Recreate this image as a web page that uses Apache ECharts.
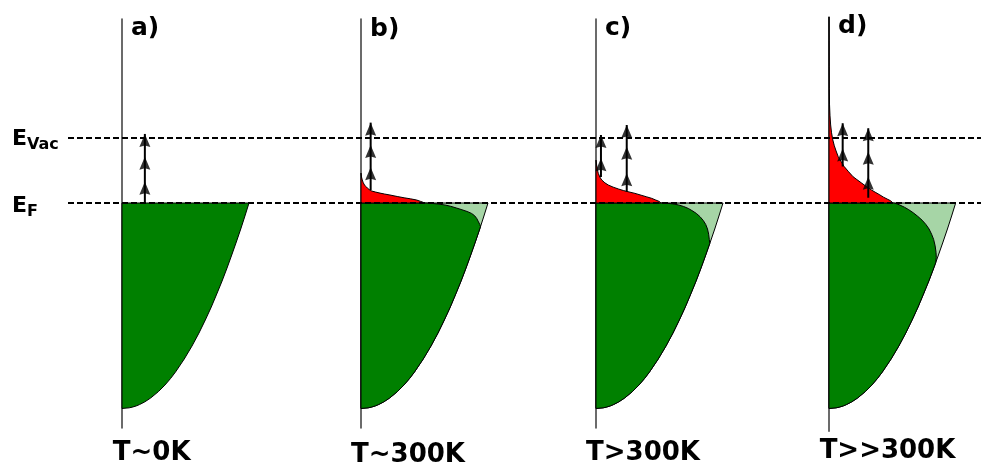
<!DOCTYPE html>
<html><head><meta charset="utf-8">
<script src="https://cdn.jsdelivr.net/npm/echarts@6/dist/echarts.min.js"></script>
<style>html,body{margin:0;padding:0;background:#fff}#c{width:981px;height:464px}</style>
</head><body><div id="c"></div>
<script>
// ---- labels ----
const panelLabels = ['a)', 'b)', 'c)', 'd)'];
const tempLabels = ['T~0K', 'T~300K', 'T>300K', 'T>>300K'];
// energy levels (eV, relative to E_F)
const levelEnergy = [0, 5]; // E_F, E_Vac

// ---- density of states edge: [width (DOS, normalised at E_F), energy] ----
const dos = [[0,-15.8],[0.056,-15.75],[0.08,-15.7],[0.113,-15.6],[0.138,-15.5],[0.178,-15.3],[0.225,-15.0],
  [0.287,-14.5],[0.338,-14.0],[0.382,-13.5],[0.421,-13.0],[0.49,-12.0],[0.551,-11.0],[0.606,-10.0],[0.656,-9.0],
  [0.703,-8.0],[0.746,-7.0],[0.788,-6.0],[0.827,-5.0],[0.864,-4.0],[0.9,-3.0],[0.935,-2.0],[0.968,-1.0],[1.0,0]];

// ---- occupied-state boundary below E_F (from junction with DOS up to E_F) ----
const occB = [[0.941,-1.8],[0.935,-1.65],[0.925,-1.45],[0.912,-1.2],[0.895,-0.98],[0.87,-0.8],[0.835,-0.65],
  [0.795,-0.52],[0.75,-0.38],[0.705,-0.25],[0.66,-0.15],[0.6,-0.07],[0.55,-0.025],[0.5,0]];
const occC = [[0.896,-3.1],[0.892,-2.8],[0.887,-2.4],[0.878,-2.0],[0.864,-1.65],[0.845,-1.35],[0.819,-1.05],
  [0.79,-0.8],[0.755,-0.58],[0.727,-0.42],[0.69,-0.27],[0.65,-0.15],[0.6,-0.06],[0.555,-0.02],[0.51,0]];
const occD = [[0.842,-4.6],[0.847,-4.2],[0.845,-3.8],[0.838,-3.3],[0.826,-2.8],[0.81,-2.4],[0.79,-2.0],
  [0.765,-1.65],[0.735,-1.32],[0.7,-1.02],[0.665,-0.75],[0.63,-0.52],[0.595,-0.32],[0.56,-0.16],[0.535,-0.06],[0.51,0]];

// ---- excited electrons above E_F (red) ----
const redB = [[0.5,0],[0.49,0.05],[0.47,0.12],[0.438,0.23],[0.39,0.32],[0.34,0.4],[0.285,0.5],[0.228,0.615],
  [0.185,0.69],[0.15,0.76],[0.115,0.84],[0.085,0.92],[0.065,1.03],[0.05,1.15],[0.038,1.27],[0.028,1.38],
  [0.018,1.55],[0.01,1.77],[0.004,2.0],[0,2.3]];
const redC = [[0.51,0],[0.506,0.05],[0.495,0.13],[0.47,0.23],[0.438,0.36],[0.4,0.47],[0.355,0.6],[0.307,0.74],
  [0.26,0.85],[0.215,0.96],[0.176,1.08],[0.135,1.22],[0.097,1.38],[0.07,1.55],[0.045,1.77],[0.03,2.0],
  [0.018,2.28],[0.01,2.6],[0.005,2.92],[0,3.3]];
const redD = [[0.506,0],[0.5,0.05],[0.485,0.18],[0.46,0.3],[0.43,0.45],[0.402,0.62],[0.37,0.8],[0.335,1.0],
  [0.297,1.25],[0.255,1.55],[0.22,1.8],[0.19,2.02],[0.155,2.4],[0.12,2.8],[0.095,3.2],[0.073,3.56],[0.056,4.0],
  [0.042,4.4],[0.03,4.85],[0.02,5.4],[0.013,6.0],[0.008,6.7],[0.004,7.6],[0.002,8.8],[0.001,10.5],
  [0.0005,12.5],[0,14.3]];

// ---- emission arrows: [x, bottom energy, top energy], head energies ----
const arrowsA = [[0.18, 0, 5.31]];      const headsA = [[5.31, 3.56, 1.64]];
const arrowsB = [[0.076, 1.0, 6.18]];   const headsB = [[6.18, 4.46, 2.75]];
const arrowsC = [[0.039, 2.0, 5.23],[0.242, 0.87, 6.0]]; const headsC = [[5.23, 3.44],[6.0, 4.33, 2.28]];
const arrowsD = [[0.108, 2.8, 6.13],[0.31, 0.4, 5.75]];  const headsD = [[6.13, 4.2],[5.75, 3.95, 2.02]];

// ---- layout (not data) ----
const axisX = [122, 361, 596, 829];
const yRange = [[-17.3,14.15],[-17.3,14.15],[-17.3,14.15],[-17.55,14.3]];
const PXU = 13.005, PXW = 127, XMAX = 1.2;
const FONT = '"DejaVu Sans", Verdana, sans-serif';
const DARK = '#008000', LIGHT = '#a6d5a6', RED = '#ff0000';
const HEAD = 'path://M0,0 L5,13 L0,11.5 L-5,13 Z';

const grids = [], xAxes = [], yAxes = [], series = [];
for (let i = 0; i < 4; i++) {
  const top = 203 - yRange[i][1] * PXU;
  grids.push({left: axisX[i], top: top, width: PXW * XMAX, height: (yRange[i][1] - yRange[i][0]) * PXU});
  xAxes.push({gridIndex: i, type: 'value', min: 0, max: XMAX, show: false});
  yAxes.push({gridIndex: i, type: 'value', min: yRange[i][0], max: yRange[i][1],
    axisLine: {show: true, onZero: false, lineStyle: {color: '#3a3a3a', width: 1.5}},
    axisTick: {show: false}, axisLabel: {show: false}, splitLine: {show: false}});
}
// full-width grid for the dashed energy levels
grids.push({left: 68, right: 0, top: 203 - 14.15 * PXU, height: (14.15 + 17.3) * PXU});
xAxes.push({gridIndex: 4, type: 'value', min: 0, max: 1, show: false});
yAxes.push({gridIndex: 4, type: 'value', min: -17.3, max: 14.15, show: false});

function poly(gi, pts, fill, z) {
  return {type: 'custom', coordinateSystem: 'cartesian2d', xAxisIndex: gi, yAxisIndex: gi, z: z, silent: true,
    data: pts,
    renderItem: function (params, api) {
      if (params.dataIndex !== 0) return null;
      return {type: 'polygon', shape: {points: pts.map(p => api.coord(p))},
        style: {fill: fill, stroke: '#000', lineWidth: 1, lineJoin: 'round'}};
    }};
}
function darkPoly(occ) {
  const joinE = occ[0][1];
  return dos.filter(p => p[1] < joinE).concat(occ).concat([[0, 0]]);
}
const dosPoly = dos.concat([[0, 0]]);

// panel a
series.push(poly(0, dosPoly, DARK, 3));
// panels b-d
[[occB, redB], [occC, redC], [occD, redD]].forEach((pr, k) => {
  const gi = k + 1;
  series.push(poly(gi, dosPoly, LIGHT, 2));
  series.push(poly(gi, darkPoly(pr[0]), DARK, 3));
  series.push(poly(gi, pr[1].concat([[0, 0]]), RED, 3));
});

// dashed levels
levelEnergy.forEach(e => {
  series.push({type: 'line', xAxisIndex: 4, yAxisIndex: 4, z: 6, silent: true, symbol: 'none',
    data: [[0, e], [1, e]], lineStyle: {color: '#000', width: 2, type: [6, 3]}});
});

// arrows
[[arrowsA, headsA], [arrowsB, headsB], [arrowsC, headsC], [arrowsD, headsD]].forEach((ah, gi) => {
  ah[0].forEach((a, j) => {
    series.push({type: 'line', xAxisIndex: gi, yAxisIndex: gi, z: 7, silent: true, symbol: 'none',
      data: [[a[0], a[1]], [a[0], a[2]]], lineStyle: {color: '#000', width: 2}});
    series.push({type: 'scatter', xAxisIndex: gi, yAxisIndex: gi, z: 8, silent: true,
      symbol: HEAD, symbolSize: [11, 13], symbolOffset: [0, '50%'],
      itemStyle: {color: '#000'},
      data: ah[1][j].map(e => [a[0], e])});
  });
});

// texts
const graphic = [];
const plY = [28, 29, 28.5, 26.5];
const plX = [131, 370, 605, 838];
panelLabels.forEach((t, i) => graphic.push({type: 'text', x: plX[i], y: plY[i], silent: true,
  style: {text: t, font: 'bold 25px ' + FONT, fill: '#000', align: 'left', verticalAlign: 'middle', textAlign: 'left', textVerticalAlign: 'middle'}}));
const tlX = [151.7, 408, 643, 887.5];
const tlY = [453, 455.5, 453, 451.5];
tempLabels.forEach((t, i) => graphic.push({type: 'text', x: tlX[i], y: tlY[i], silent: true,
  style: {text: t, font: 'bold 26px ' + FONT, fill: '#000', align: 'center', verticalAlign: 'middle', textAlign: 'center', textVerticalAlign: 'middle'}}));
const levelLabelText = ['{e|E}{s|F}', '{e|E}{s|Vac}'];
const levelLabelY = [206, 139.3];
const rich = {
  e: {font: 'bold 22px ' + FONT, fill: '#000', lineHeight: 28, verticalAlign: 'middle'},
  s: {font: 'bold 16px ' + FONT, fill: '#000', lineHeight: 16, verticalAlign: 'bottom'}
};
levelLabelText.forEach((t, i) => graphic.push({type: 'text', x: 12, y: levelLabelY[i], silent: true,
  style: {text: t, rich: rich, align: 'left', verticalAlign: 'middle', textAlign: 'left', textVerticalAlign: 'middle'}}));

const chart = echarts.init(document.getElementById('c'), null, {renderer: 'canvas'});
chart.setOption({
  animation: false,
  backgroundColor: '#fff',
  grid: grids, xAxis: xAxes, yAxis: yAxes, series: series, graphic: graphic
});
</script></body></html>
